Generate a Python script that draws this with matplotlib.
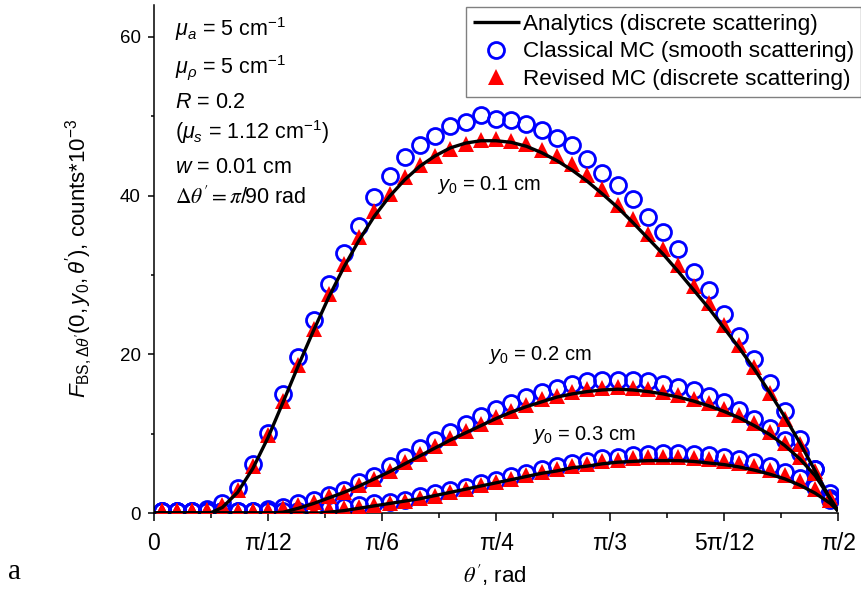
import numpy as np
import matplotlib
matplotlib.use("Agg")
import matplotlib.pyplot as plt
from matplotlib.lines import Line2D

plt.rcParams['font.family'] = ['Liberation Sans', 'DejaVu Sans']
plt.rcParams['mathtext.fontset'] = 'custom'
plt.rcParams['mathtext.rm'] = 'Liberation Sans'
plt.rcParams['mathtext.it'] = 'Liberation Sans:italic'
plt.rcParams['mathtext.bf'] = 'Liberation Sans:bold'

# Monte Carlo bin centres, degrees (bin width pi/90)
theta_mc_deg = [1, 3, 5, 7, 9, 11, 13, 15, 17, 19, 21, 23, 25, 27, 29, 31, 33, 35,
                37, 39, 41, 43, 45, 47, 49, 51, 53, 55, 57, 59, 61, 63, 65, 67, 69,
                71, 73, 75, 77, 79, 81, 83, 85, 87, 89]

# y0 = 0.1 cm
classical_01 = [0.3, 0.3, 0.3, 0.5, 1.3, 3.1, 6.2, 10.1, 15.0, 19.6, 24.3, 28.9, 32.7,
                36.2, 39.8, 42.4, 44.8, 46.3, 47.5, 48.8, 49.3, 50.1, 49.6, 49.5, 49.0,
                48.2, 47.3, 46.3, 44.6, 42.8, 41.3, 39.5, 37.3, 35.4, 33.3, 30.4, 28.1,
                25.1, 22.3, 19.4, 16.4, 12.8, 9.3, 5.6, 1.6]
revised_01 = [0.3, 0.3, 0.3, 0.4, 1.0, 2.9, 5.9, 9.8, 14.1, 18.6, 23.2, 27.6, 31.4,
              34.8, 38.0, 40.2, 42.3, 43.8, 45.0, 45.9, 46.5, 47.0, 47.1, 46.9, 46.5,
              45.7, 45.0, 44.0, 42.6, 40.8, 38.8, 37.0, 35.1, 33.3, 31.2, 28.6, 26.5,
              23.7, 21.2, 18.4, 15.1, 11.9, 8.7, 5.3, 1.6]
analytic_01_deg = [0, 7.4, 9, 11, 13, 15, 17, 19, 21, 23, 25, 27, 29, 31, 33, 35, 37, 39,
                   41, 43, 45, 47, 49, 51, 53, 55, 57, 59, 61, 63, 65, 67, 69, 71, 73,
                   75, 77, 79, 81, 83, 85, 87, 89, 90]
analytic_01 = [0, 0, 0.7, 2.6, 5.6, 9.5, 14.0, 18.6, 23.0, 27.2, 31.0, 34.4, 37.4, 39.9,
               42.0, 43.7, 45.0, 46.0, 46.6, 46.9, 46.9, 46.7, 46.2, 45.4, 44.4, 43.2,
               41.8, 40.2, 38.5, 36.6, 34.6, 32.6, 30.4, 28.1, 25.8, 23.3, 20.8, 18.1,
               15.2, 12.1, 8.8, 5.3, 1.7, 0.2]

# y0 = 0.2 cm
classical_02 = [0.3, 0.3, 0.3, 0.3, 0.3, 0.3, 0.3, 0.5, 0.8, 1.2, 1.6, 2.3, 2.9, 3.9,
                4.7, 5.9, 7.1, 8.2, 9.2, 10.2, 11.2, 12.2, 13.1, 13.9, 14.6, 15.3, 15.8,
                16.3, 16.6, 16.7, 16.8, 16.7, 16.6, 16.3, 15.9, 15.5, 14.8, 14.0, 13.0,
                11.9, 10.7, 9.2, 7.5, 5.5, 2.5]
revised_02 = [0.3, 0.3, 0.3, 0.3, 0.3, 0.3, 0.3, 0.4, 0.6, 1.0, 1.4, 2.1, 2.7, 3.5,
              4.3, 5.3, 6.4, 7.4, 8.4, 9.4, 10.3, 11.2, 12.1, 12.9, 13.6, 14.3, 14.8,
              15.2, 15.6, 15.8, 15.9, 15.8, 15.6, 15.3, 14.9, 14.4, 13.8, 13.1, 12.3,
              11.3, 10.2, 8.8, 7.1, 5.0, 2.0]
analytic_02_deg = [0, 15.5, 17, 19, 21, 23, 25, 27, 29, 31, 33, 35, 37, 39, 41, 43, 45,
                   47, 49, 51, 53, 55, 57, 59, 61, 63, 65, 67, 69, 71, 73, 75, 77, 79,
                   81, 83, 85, 87, 89, 90]
analytic_02 = [0, 0, 0.1, 0.6, 1.2, 1.9, 2.6, 3.4, 4.3, 5.2, 6.2, 7.2, 8.2, 9.2, 10.1,
               11.0, 11.9, 12.7, 13.4, 14.0, 14.6, 15.0, 15.3, 15.5, 15.6, 15.5, 15.3,
               15.0, 14.6, 14.1, 13.5, 12.8, 12.0, 11.0, 9.9, 8.5, 6.8, 4.7, 1.8, 0.3]

# y0 = 0.3 cm
classical_03 = [0.3, 0.3, 0.3, 0.3, 0.3, 0.3, 0.3, 0.3, 0.3, 0.3, 0.4, 0.6, 0.8, 1.0,
                1.2, 1.4, 1.7, 2.1, 2.5, 2.9, 3.3, 3.8, 4.2, 4.7, 5.1, 5.5, 5.9, 6.3,
                6.6, 6.9, 7.1, 7.3, 7.4, 7.5, 7.5, 7.4, 7.3, 7.1, 6.8, 6.4, 5.9, 5.2,
                4.4, 3.3, 1.9]
revised_03 = [0.3, 0.3, 0.3, 0.3, 0.3, 0.3, 0.3, 0.3, 0.3, 0.3, 0.3, 0.5, 0.6, 0.8,
              1.0, 1.2, 1.5, 1.9, 2.2, 2.6, 3.0, 3.5, 3.9, 4.3, 4.8, 5.2, 5.5, 5.9,
              6.2, 6.5, 6.7, 6.9, 7.0, 7.0, 7.0, 6.9, 6.8, 6.6, 6.3, 5.9, 5.4, 4.8,
              4.0, 3.0, 1.7]
analytic_03_deg = [0, 21.6, 23, 25, 27, 29, 31, 33, 35, 37, 39, 41, 43, 45, 47, 49, 51,
                   53, 55, 57, 59, 61, 63, 65, 67, 69, 71, 73, 75, 77, 79, 81, 83, 85,
                   87, 89, 90]
analytic_03 = [0, 0, 0.1, 0.3, 0.6, 0.9, 1.2, 1.5, 1.8, 2.2, 2.6, 3.0, 3.4, 3.8, 4.2,
               4.6, 5.0, 5.3, 5.7, 5.9, 6.2, 6.4, 6.5, 6.6, 6.6, 6.6, 6.5, 6.3, 6.1,
               5.8, 5.4, 4.9, 4.3, 3.5, 2.5, 1.2, 0.3]

x_tick_labels = ['0', 'π/12', 'π/6', 'π/4', 'π/3', '5π/12', 'π/2']
y_ticks = [0, 20, 40, 60]

legend_labels = ['Analytics (discrete scattering)',
                 'Classical MC (smooth scattering)',
                 'Revised MC (discrete scattering)']

W, H = 861, 589
fig = plt.figure(figsize=(W / 100, H / 100), dpi=100)
ax = fig.add_axes([154 / W, 1 - 513 / H, (838 - 154) / W, (513 - 5) / H])

theta_mc = np.deg2rad(theta_mc_deg)
circle_kw = dict(linestyle='none', marker='o', ms=11.5, mfc='none', mec='#0000ff',
                 mew=2.0, zorder=2)
tri_kw = dict(linestyle='none', marker='^', ms=11.5, color='#ff0000', mew=0, zorder=3)
line_kw = dict(color='black', lw=2.4, zorder=4, solid_capstyle='butt')

for cls, rev in [(classical_01, revised_01), (classical_02, revised_02),
                 (classical_03, revised_03)]:
    ax.plot(theta_mc, cls, **circle_kw)
    ax.plot(theta_mc, rev, **tri_kw)

for deg, vals in [(analytic_01_deg, analytic_01), (analytic_02_deg, analytic_02),
                  (analytic_03_deg, analytic_03)]:
    ax.plot(np.deg2rad(deg), vals, **line_kw)

ax.set_xlim(0, np.pi / 2)
ax.set_ylim(0, 64)
ax.set_xticks(np.arange(7) * np.pi / 12)
ax.set_xticklabels(x_tick_labels, fontsize=16.5)
ax.set_xticks(np.arange(1, 12, 2) * np.pi / 24, minor=True)
ax.set_yticks(y_ticks)
ax.set_yticklabels([str(v) for v in y_ticks], fontsize=13.5)
ax.set_yticks([10, 30, 50], minor=True)
ax.tick_params(axis='x', which='major', length=6, width=1.1, pad=8)
ax.tick_params(axis='x', which='minor', length=3.5, width=1.1)
ax.tick_params(axis='y', which='major', length=4.5, width=1.1, pad=5)
ax.tick_params(axis='y', which='minor', length=2.5, width=1.1)
for side in ('top', 'right'):
    ax.spines[side].set_visible(False)
for side in ('left', 'bottom'):
    ax.spines[side].set_linewidth(1.1)

# Parameter block
params = [r'$\mu_a$ = 5 cm$^{-1}$',
          r'$\mu_\rho$ = 5 cm$^{-1}$',
          r'$R$ = 0.2',
          r'($\mu_s$ = 1.12 cm$^{-1}$)',
          r'$w$ = 0.01 cm']
baselines = [36, 73, 108, 139, 173]
for txt, yb in zip(params, baselines):
    fig.text(175 / W, 1 - yb / H, txt, fontsize=15.5, va='baseline', ha='left')
fig.text(175 / W, 1 - 204 / H, r"$\Delta\theta' = \pi$/90 rad", fontsize=15.5,
         va='baseline', ha='left', math_fontfamily='stix')

# Curve labels
for txt, xl, yc in [(r'$y_0$ = 0.1 cm', 437, 185), (r'$y_0$ = 0.2 cm', 488, 355),
                    (r'$y_0$ = 0.3 cm', 532, 435)]:
    fig.text(xl / W, 1 - yc / H, txt, fontsize=14.5, va='center', ha='left')

# Axis labels
fig.text(79 / W, 1 - 258 / H,
         r"$F_{\mathrm{BS},\Delta\theta'}(0,y_0,\theta')$, counts*10$^{-3}$",
         rotation=90, fontsize=16, ha='center', va='center')
fig.text(495 / W, 1 - 575 / H, r"$\theta'$, rad", fontsize=16, ha='center',
         va='center', math_fontfamily='stix')
fig.text(14 / W, 1 - 572 / H, 'a', fontsize=21, family='Liberation Serif',
         ha='center', va='center')

handles = [Line2D([], [], **line_kw),
           Line2D([], [], **circle_kw),
           Line2D([], [], **tri_kw)]
leg = fig.legend(handles, legend_labels, loc='upper left',
                 bbox_to_anchor=(466 / W, 1 - 7 / H), fontsize=16.2,
                 frameon=True, fancybox=False, framealpha=1, edgecolor='#808080',
                 handlelength=2.1, handletextpad=0.12, labelspacing=0.3,
                 borderpad=0.3, borderaxespad=0)
leg.get_frame().set_linewidth(1.0)

fig.savefig('out.png', dpi=100)
